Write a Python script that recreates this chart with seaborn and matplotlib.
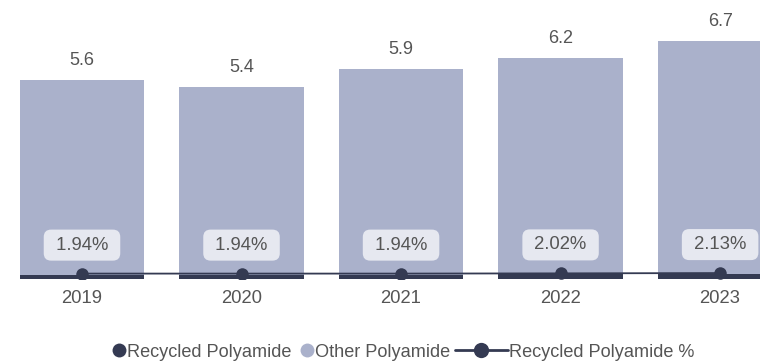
import matplotlib
matplotlib.use("Agg")
import matplotlib.pyplot as plt
from matplotlib.lines import Line2D
import seaborn as sns
import pandas as pd

years = ["2019", "2020", "2021", "2022", "2023"]
recycled = [0.11, 0.10, 0.11, 0.13, 0.14]
other = [5.49, 5.30, 5.79, 6.07, 6.56]
totals = [5.6, 5.4, 5.9, 6.2, 6.7]
recycled_pct = [1.94, 1.94, 1.94, 2.02, 2.13]

dark = "#343a52"
light = "#aab1cb"
text_col = "#555555"

sns.set_theme(style="white")
plt.rcParams["font.family"] = ["Liberation Sans", "DejaVu Sans"]

df = pd.DataFrame({"year": years, "recycled": recycled, "other": other,
                   "total": totals, "pct": recycled_pct})
df["stack"] = df["recycled"] + df["other"]

fig = plt.figure(figsize=(7.6, 3.63), dpi=100)
ax = fig.add_axes([0, 0.2314, 1, 0.7686])

# stacked bars: full stack in light, recycled share in dark at the bottom
sns.barplot(data=df, x="year", y="stack", color=light, width=0.78,
            saturation=1, linewidth=0, ax=ax)
sns.barplot(data=df, x="year", y="recycled", color=dark, width=0.78,
            saturation=1, linewidth=0, ax=ax)

for i, t in enumerate(totals):
    ax.annotate(f"{t:.1f}", (i, df["stack"][i]), xytext=(0, 14),
                textcoords="offset points", ha="center", va="center",
                fontsize=13, color=text_col)

ax.set_xlim(-0.514, 4.25)
ax.set_ylim(0, 7.84)
ax.set_xlabel("")
ax.set_ylabel("")
ax.set_yticks([])
ax.tick_params(axis="x", length=0, pad=8, labelsize=13.3, labelcolor=text_col)
for s in ax.spines.values():
    s.set_visible(False)

# percentage line on a secondary axis
ax2 = ax.twinx()
sns.lineplot(x=range(len(years)), y=recycled_pct, color=dark, linewidth=1.3,
             marker="o", markersize=9, markeredgewidth=0, ax=ax2)
for i, p in enumerate(recycled_pct):
    ax2.annotate(f" {p:.2f}% ", (i, p), xytext=(0, 20.5),
                 textcoords="offset points", ha="center", va="center",
                 fontsize=13.3, color=text_col,
                 bbox=dict(boxstyle="round,pad=0.38,rounding_size=0.4",
                           fc="#e6e8f0", ec="none"))
ax2.set_ylim(0, 100)
ax2.set_yticks([])
ax2.set_ylabel("")
for s in ax2.spines.values():
    s.set_visible(False)

# legend: two pieces so the line entry can have a longer handle
dot_handles = [
    Line2D([], [], linestyle="none", marker="o", markersize=10,
           color=dark, markeredgewidth=0),
    Line2D([], [], linestyle="none", marker="o", markersize=10,
           color=light, markeredgewidth=0),
]
line_handle = Line2D([], [], color=dark, linewidth=2, marker="o",
                     markersize=11, markeredgewidth=0)
leg_kw = dict(frameon=False, fontsize=13.1, labelcolor=text_col,
              borderpad=0, borderaxespad=0)
leg1 = fig.legend(dot_handles, ["Recycled Polyamide", "Other Polyamide"],
                  loc="center right", bbox_to_anchor=(450 / 760, 0.03),
                  ncol=2, handlelength=0.75, handletextpad=0.05,
                  columnspacing=0.5, **leg_kw)
leg2 = fig.legend([line_handle], ["Recycled Polyamide %"],
                  loc="center left", bbox_to_anchor=(455 / 760, 0.03),
                  handlelength=2.9, handletextpad=0.05, **leg_kw)

fig.savefig("out.png", dpi=100)
